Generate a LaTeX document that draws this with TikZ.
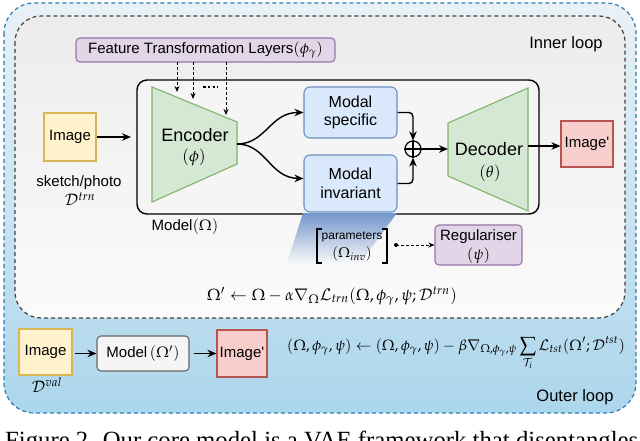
\documentclass[tikz,border=0pt]{standalone}
\usepackage{mathpazo}
\usepackage[no-math]{fontspec}
\setmainfont{Liberation Serif}
\setsansfont{Liberation Sans}
\usetikzlibrary{arrows.meta}
\definecolor{outerline}{HTML}{2A7DB5}
\definecolor{outertop}{HTML}{E9F1F6}
\definecolor{outerbot}{HTML}{ACD6EC}
\definecolor{innertop}{HTML}{ECECEC}
\definecolor{innerbot}{HTML}{FBFBFB}
\definecolor{yelfill}{HTML}{FFF2CC}
\definecolor{yelline}{HTML}{D6B656}
\definecolor{redfill}{HTML}{F8CECC}
\definecolor{redline}{HTML}{B85450}
\definecolor{grnfill}{HTML}{D5E8D4}
\definecolor{grnline}{HTML}{82B366}
\definecolor{blufill}{HTML}{DAE8FC}
\definecolor{bluline}{HTML}{6C8EBF}
\definecolor{purfill}{HTML}{E1D5E7}
\definecolor{purline}{HTML}{9673A6}
\definecolor{gryfill}{HTML}{F5F5F5}
\definecolor{gryline}{HTML}{666666}
\definecolor{shadetop}{HTML}{7396CC}
\begin{document}
\begin{tikzpicture}[x=1pt,y=-1pt,
  sf/.style={font=\sffamily\fontsize{15}{17}\selectfont},
  arr/.style={-{Stealth[length=9pt,width=7.5pt]}, line width=1.4pt},
  darr/.style={-{Stealth[length=6pt,width=5pt]}, line width=1pt, dash pattern=on 3pt off 2pt},
  imgbox/.style={sf, draw=yelline, fill=yelfill, line width=1.1pt, inner sep=0pt},
  outbox/.style={sf, draw=redline, fill=redfill, line width=1.1pt, inner sep=0pt},
  modalbox/.style={sf, draw=bluline, fill=blufill, line width=1.1pt, rounded corners=6pt, align=center, inner sep=0pt, font=\sffamily\fontsize{16}{18.5}\selectfont},
  purbox/.style={sf, draw=purline, fill=purfill, line width=1.1pt, rounded corners=4pt, align=center, inner sep=0pt},
  lbl/.style={sf, inner sep=0pt}
]
\useasboundingbox (0,0) rectangle (640,441);
% outer loop
\path[draw=outerline, top color=outertop, bottom color=outerbot, line width=1.2pt,
  dash pattern=on 4pt off 3pt, rounded corners=30pt] (4,3) rectangle (636,413);
% inner loop
\path[draw=black!75, top color=innertop, bottom color=innerbot, line width=1.2pt,
  dash pattern=on 4pt off 3pt, rounded corners=26pt] (15,16) rectangle (625,318);
\node[lbl, font=\sffamily\fontsize{16.5}{18}\selectfont] (inl) at (566,44) {Inner loop};
\node[lbl, font=\sffamily\fontsize{16.5}{18}\selectfont] (outl) at (575,397) {Outer loop};

% model box
\draw[line width=1.4pt, fill=white!96!black, rounded corners=10pt] (137,80) rectangle (539,214);
\node[lbl] (modlbl) at (185,227) {Model$(\Omega)$};

% shadow under modal invariant
\shade[top color=shadetop, bottom color=white!97!black] (303,213) -- (397,213) -- (360,263) -- (287,263) -- cycle;

% FTL
\node[purbox, minimum width=259pt, minimum height=24pt] (ftl) at (205.5,50) {Feature Transformation Layers$(\phi_\gamma)$};

% encoder
\draw[draw=grnline, fill=grnfill, line width=1.1pt] (152,87) -- (237,122) -- (237,164) -- (152,202) -- cycle;
\node[lbl, font=\sffamily\fontsize{18}{20}\selectfont] (enc) at (195,135) {Encoder};
\node[lbl, font=\fontsize{16}{18}\selectfont] (encp) at (194,157) {$(\phi)$};
\coordinate (encR) at (237,144);

% dashed arrows from FTL
\coordinate (d1s) at (177,62); \coordinate (d1e) at (177,92);
\coordinate (d2s) at (193,62); \coordinate (d2e) at (193,99);
\coordinate (d3s) at (226,62); \coordinate (d3e) at (226,115);
\draw[darr] (d1s) -- (d1e);
\draw[darr] (d2s) -- (d2e);
\draw[darr] (d3s) -- (d3e);
\coordinate (dots1) at (203,87); \coordinate (dots2) at (218,87);
\draw[line width=2.4pt, dash pattern=on 2.6pt off 2.2pt] (dots1) -- (dots2);

% image in
\node[imgbox, minimum width=52pt, minimum height=48pt] (imgA) at (70,137) {Image};
\coordinate (encIn) at (131,137);
\draw[arr] (imgA) -- (encIn);
\node[lbl] (sk) at (79,183) {sketch/photo};
\node[lbl, font=\fontsize{16}{18}\selectfont] (dtrn) at (80,199) {$\mathcal{D}^{trn}$};

% modal boxes
\node[modalbox, minimum width=93pt, minimum height=51pt] (ms) at (350.5,112.5) {Modal\\specific};
\node[modalbox, minimum width=93pt, minimum height=57pt] (mi) at (350.5,183.5) {Modal\\invariant};
\draw[arr] (encR) .. controls (266,144) and (270,112.5) .. (ms.west);
\draw[arr] (encR) .. controls (266,144) and (270,178) .. ([yshift=5pt]mi.west);

% oplus
\node[draw, circle, line width=1.2pt, minimum size=16pt, inner sep=0pt] (op) at (413,149) {};
\draw[line width=1.2pt] (op.north) -- (op.south) (op.west) -- (op.east);
\draw[arr, rounded corners=4pt] (ms.east) -| (op.north);
\draw[arr, rounded corners=4pt] (mi.east) -| (op.south);

% decoder
\draw[draw=grnline, fill=grnfill, line width=1.1pt] (448,123) -- (528,88) -- (528,211) -- (448,176) -- cycle;
\node[lbl, font=\sffamily\fontsize{18}{20}\selectfont] (dec) at (489,149) {Decoder};
\node[lbl, font=\fontsize{16}{18}\selectfont] (decp) at (490,173) {$(\theta)$};
\coordinate (decIn) at (448,149);
\coordinate (decOut) at (528,146);
\draw[arr] (op.east) -- (decIn);

\node[outbox, minimum width=52pt, minimum height=46pt] (imgB) at (587,144) {Image\textquotesingle};
\draw[arr] (decOut) -- (decOut -| imgB.west);

% parameters bracket
\coordinate (bl1) at (322,229); \coordinate (bl2) at (317,229); \coordinate (bl3) at (317,263); \coordinate (bl4) at (322,263);
\coordinate (br1) at (382,229); \coordinate (br2) at (387,229); \coordinate (br3) at (387,263); \coordinate (br4) at (382,263);
\draw[line width=1.3pt] (bl1) -- (bl2) -- (bl3) -- (bl4);
\draw[line width=1.3pt] (br1) -- (br2) -- (br3) -- (br4);
\node[lbl, font=\sffamily\fontsize{12}{14}\selectfont] (par) at (352,237) {parameters};
\node[lbl, font=\fontsize{14}{16}\selectfont] (pinv) at (352,254) {$(\Omega_{inv})$};

% regulariser
\node[draw=purline, fill=purfill, line width=1.1pt, rounded corners=4pt, minimum width=87pt, minimum height=40pt] (reg) at (478.5,245) {};
\node[lbl] (regt) at (478.5,237) {Regulariser};
\node[lbl, font=\fontsize{15}{16}\selectfont] (regp) at (478.5,256) {$(\psi)$};
\coordinate (dotP) at (396,245);
\fill (dotP) circle (2pt);
\draw[darr] (dotP) -- (reg.west);

% inner equation
\node[inner sep=0pt, anchor=base] (eq1) at (332,300) {\resizebox{250pt}{!}{$\Omega' \leftarrow \Omega - \alpha\nabla_{\Omega}\mathcal{L}_{trn}(\Omega,\phi_\gamma,\psi;\mathcal{D}^{trn})$}};

% bottom row
\node[imgbox, minimum width=53pt, minimum height=46pt] (imgC) at (45.5,352) {Image};
\node[lbl, font=\fontsize{16}{18}\selectfont] (dval) at (47,385) {$\mathcal{D}^{val}$};
\node[sf, draw=gryline, fill=gryfill, line width=1.1pt, rounded corners=4pt, minimum width=92pt, minimum height=35pt, inner sep=0pt] (mod) at (143,353.5) {Model$\,(\Omega')$};
\node[outbox, minimum width=50pt, minimum height=47pt] (imgD) at (242,353.5) {Image\textquotesingle};
\draw[arr, shorten <=2pt] (imgC.east |- mod.west) -- (mod.west);
\draw[arr, shorten <=4pt] (mod.east) -- (imgD.west);

% outer equation
\node[inner sep=0pt, anchor=base] (eq2) at (456,350) {\resizebox{338pt}{!}{$(\Omega,\phi_\gamma,\psi) \leftarrow (\Omega,\phi_\gamma,\psi) - \beta\nabla_{\Omega,\phi_\gamma,\psi}\displaystyle\sum_{\mathcal{T}_i}\mathcal{L}_{tst}(\Omega';\mathcal{D}^{tst})$}};

% caption (cut off)
\node[inner sep=0pt, anchor=base west] (cap) at (5,448) {\resizebox{633pt}{!}{Figure 2. Our core model is a VAE framework that disentangles}};
\end{tikzpicture}
\end{document}
